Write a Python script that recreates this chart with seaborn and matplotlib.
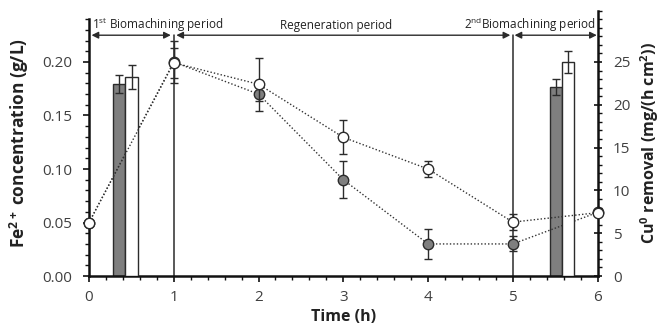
import matplotlib
matplotlib.use("Agg")
import matplotlib.pyplot as plt
import seaborn as sns
import numpy as np
import pandas as pd
from matplotlib.ticker import MultipleLocator

# ---- data ----
time_h = [0, 1, 2, 3, 4, 5, 6]
fe_conc = [0.05, 0.20, 0.170, 0.090, 0.030, 0.030, 0.0595]        # g/L (gray markers)
fe_err = [0.0, 0.020, 0.0066, 0.0175, 0.014, 0.007, 0.0]
cu_removal = [6.24, 24.9, 22.4, 16.2, 12.5, 6.3, 7.4]            # mg/(h cm2) (white markers)
cu_err = [0.0, 1.75, 3.1, 2.0, 0.9, 0.9, 0.0]

bar_x_fe = [0.358, 5.505]
bar_fe = [0.179, 0.177]
bar_fe_err = [0.0084, 0.0075]
bar_x_cu = [0.502, 5.65]
bar_cu = [23.3, 25.0]
bar_cu_err = [1.4, 1.3]

periods = ["1$^{\\mathrm{st}}$ Biomachining period", "Regeneration period",
           "2$^{\\mathrm{nd}}$Biomachining period"]
period_bounds = [(0.03, 0.965), (1.03, 4.97), (5.02, 5.99)]

sns.set_style("ticks")
plt.rcParams["font.family"] = ["Open Sans", "DejaVu Sans"]
plt.rcParams["mathtext.fontset"] = "custom"
plt.rcParams["mathtext.rm"] = "Open Sans"
plt.rcParams["mathtext.bf"] = "Open Sans:bold"
plt.rcParams["mathtext.it"] = "Open Sans:italic"

fig = plt.figure(figsize=(6.67, 3.31), dpi=100)
ax = fig.add_axes([0.1334, 0.166, 0.896 - 0.1334, 0.968 - 0.166])
ax2 = ax.twinx()

dark = "#2b2b2b"
gray = "#7f7f7f"
tickc = "#404040"

ax.set_xlim(0, 6)
ax.set_ylim(0, 0.248)
ax2.set_ylim(0, 31)

# bars
ax.bar(bar_x_fe, bar_fe, width=0.143, color=gray, edgecolor=dark, linewidth=1.0, zorder=2)
ax.errorbar(bar_x_fe, bar_fe, yerr=bar_fe_err, fmt="none", ecolor=dark, elinewidth=1,
            capsize=3, capthick=1, zorder=3)
ax2.bar(bar_x_cu, bar_cu, width=0.143, color="white", edgecolor=dark, linewidth=1.0, zorder=2)
ax2.errorbar(bar_x_cu, bar_cu, yerr=bar_cu_err, fmt="none", ecolor=dark, elinewidth=1,
             capsize=3, capthick=1, zorder=3)

# vertical period lines
for xv in [1, 5]:
    ax.plot([xv, xv], [0, 0.225], color=dark, lw=1.1, zorder=1)

# lines
df_fe = pd.DataFrame({"t": time_h, "v": fe_conc})
df_cu = pd.DataFrame({"t": time_h, "v": cu_removal})
ax.errorbar(time_h, fe_conc, yerr=fe_err, fmt="none", ecolor=dark, elinewidth=1,
            capsize=3, capthick=1, zorder=3)
sns.lineplot(data=df_fe, x="t", y="v", ax=ax, color="#333333", linestyle=(0, (1, 1.5)),
             lw=1.0, marker="o", markersize=7.5, markerfacecolor=gray,
             markeredgecolor=dark, markeredgewidth=1.0, zorder=4, clip_on=False)
ax2.errorbar(time_h, cu_removal, yerr=cu_err, fmt="none", ecolor=dark, elinewidth=1,
             capsize=3, capthick=1, zorder=3)
sns.lineplot(data=df_cu, x="t", y="v", ax=ax2, color="#333333", linestyle=(0, (1, 1.5)),
             lw=1.0, marker="o", markersize=7.5, markerfacecolor="white",
             markeredgecolor=dark, markeredgewidth=1.0, zorder=4, clip_on=False)

# period arrows and text
for (x0, x1) in period_bounds:
    ax.annotate("", xy=(x1, 0.225), xytext=(x0, 0.225),
                arrowprops=dict(arrowstyle="<|-|>", color=dark, lw=1.0,
                                mutation_scale=10, shrinkA=0, shrinkB=0))
ax.text(0.03, 0.2345, periods[0], ha="left", va="center", fontsize=8.5, color="#222222")
ax.text(2.92, 0.2345, periods[1], ha="center", va="center", fontsize=8.5, color="#222222")
ax.text(5.98, 0.2345, periods[2], ha="right", va="center", fontsize=8.5, color="#222222")

# spines and ticks
for a in (ax, ax2):
    a.spines["top"].set_visible(False)
ax.spines["right"].set_visible(False)
ax.spines["left"].set_bounds(0, 0.24)
for s in ("left", "bottom"):
    ax.spines[s].set_linewidth(1.8)
    ax.spines[s].set_color("#111111")
ax2.spines["right"].set_linewidth(1.8)
ax2.spines["right"].set_color("#111111")
ax2.spines["left"].set_visible(False)
ax2.spines["bottom"].set_visible(False)

ax.set_xticks(range(0, 7))
ax.xaxis.set_minor_locator(MultipleLocator(0.2))
ax.set_yticks([0, 0.05, 0.10, 0.15, 0.20])
ax.set_yticklabels(["0.00", "0.05", "0.10", "0.15", "0.20"])
ax.set_yticks(np.arange(0, 0.2401, 0.01), minor=True)
ax2.set_yticks([0, 5, 10, 15, 20, 25])
ax2.set_yticks(np.arange(0, 31.01, 1.0), minor=True)

ax.tick_params(axis="both", which="major", direction="out", length=4, width=1.2,
               colors="#111111", labelcolor=tickc, labelsize=11, pad=8)
ax.tick_params(axis="both", which="minor", direction="out", length=3, width=1.0, colors="#111111")
ax.tick_params(axis="x", which="major", pad=6)
ax2.tick_params(axis="y", which="major", direction="inout", length=6, width=1.2,
                colors="#111111", labelcolor=tickc, labelsize=11, pad=8)
ax2.tick_params(axis="y", which="minor", direction="out", length=3, width=1.0, colors="#111111")

ax.set_xlabel("Time (h)", fontsize=11.5, fontweight="bold", color="#222222", labelpad=3)
ax.set_ylabel("Fe$^{\\mathbf{2+}}$ concentration (g/L)", fontsize=12.5, fontweight="bold",
              color="#222222", labelpad=8)
ax2.set_ylabel("Cu$^{\\mathbf{0}}$ removal (mg/(h cm$^{\\mathbf{2}}$))", fontsize=11.5,
               fontweight="bold", color="#222222", labelpad=6)

fig.savefig("out.png", dpi=100)
